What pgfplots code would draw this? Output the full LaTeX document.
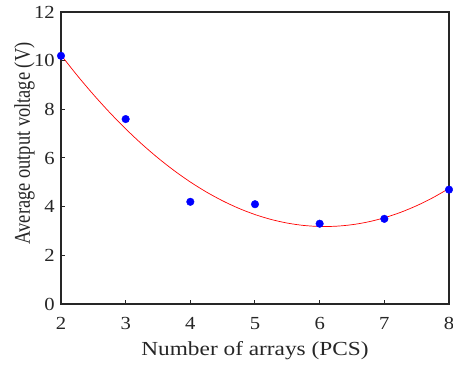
\documentclass[border=0pt]{standalone}
\usepackage{fontspec}
\setmainfont{Liberation Serif}
\newfontfamily\tickfont[FakeStretch=1.12]{Liberation Serif}
\newfontfamily\xlabfont[FakeStretch=1.17]{Liberation Serif}
\usepackage{pgfplots}
\pgfplotsset{compat=1.18}
\begin{document}
\begin{tikzpicture}
\useasboundingbox (-61bp,-61bp) rectangle (392bp,304bp);
\begin{axis}[
  at={(0,0)}, anchor=south west,
  scale only axis, width=388bp, height=292bp,
  xmin=2, xmax=8, ymin=0, ymax=12,
  xtick={2,3,4,5,6,7,8}, ytick={0,2,4,6,8,10,12},
  tick align=inside, major tick length=4bp,
  xtick pos=bottom, ytick pos=left,
  axis line style={line width=1.3bp, black!85},
  tick style={line width=1bp, black!85},
  /pgf/number format/assume math mode=true,
  ticklabel style={font=\tickfont\fontsize{18.5}{20}\selectfont, text=black!85, inner sep=0pt},
  xticklabel style={anchor=base, yshift=-25bp},
  yticklabel style={anchor=east, xshift=-6bp},
  xlabel={\xlabfont\fontsize{20}{22}\selectfont Number of arrays (PCS)},
  ylabel={\scalebox{1}[1.22]{\fontsize{18.5}{20}\selectfont Average output voltage (V)}},
  label style={text=black!85},
  xlabel style={inner sep=0pt, at={(axis description cs:0.5,0)}, anchor=base, yshift=-51bp},
  ylabel style={inner sep=0pt, at={(axis description cs:0,0.55)}, anchor=north, yshift=47bp},
  clip=false,
]
\addplot[red, line width=0.7bp, smooth] coordinates {
(2,10.233) (2.25,9.395) (2.5,8.610) (2.75,7.878) (3,7.199) (3.25,6.573)
(3.5,6.001) (3.75,5.481) (4,5.014) (4.25,4.600) (4.5,4.239) (4.75,3.931)
(5,3.676) (5.25,3.474) (5.5,3.325) (5.75,3.229) (6,3.186) (6.25,3.196)
(6.5,3.259) (6.75,3.374) (7,3.543) (7.25,3.765) (7.5,4.040) (7.75,4.368) (8,4.748)
};
\addplot[only marks, mark=*, mark size=3.8bp, blue, mark options={fill=blue, draw=blue}] coordinates {
(2,10.2) (3,7.6) (4,4.2) (5,4.1) (6,3.3) (7,3.5) (8,4.7)
};
\end{axis}
\end{tikzpicture}
\end{document}
